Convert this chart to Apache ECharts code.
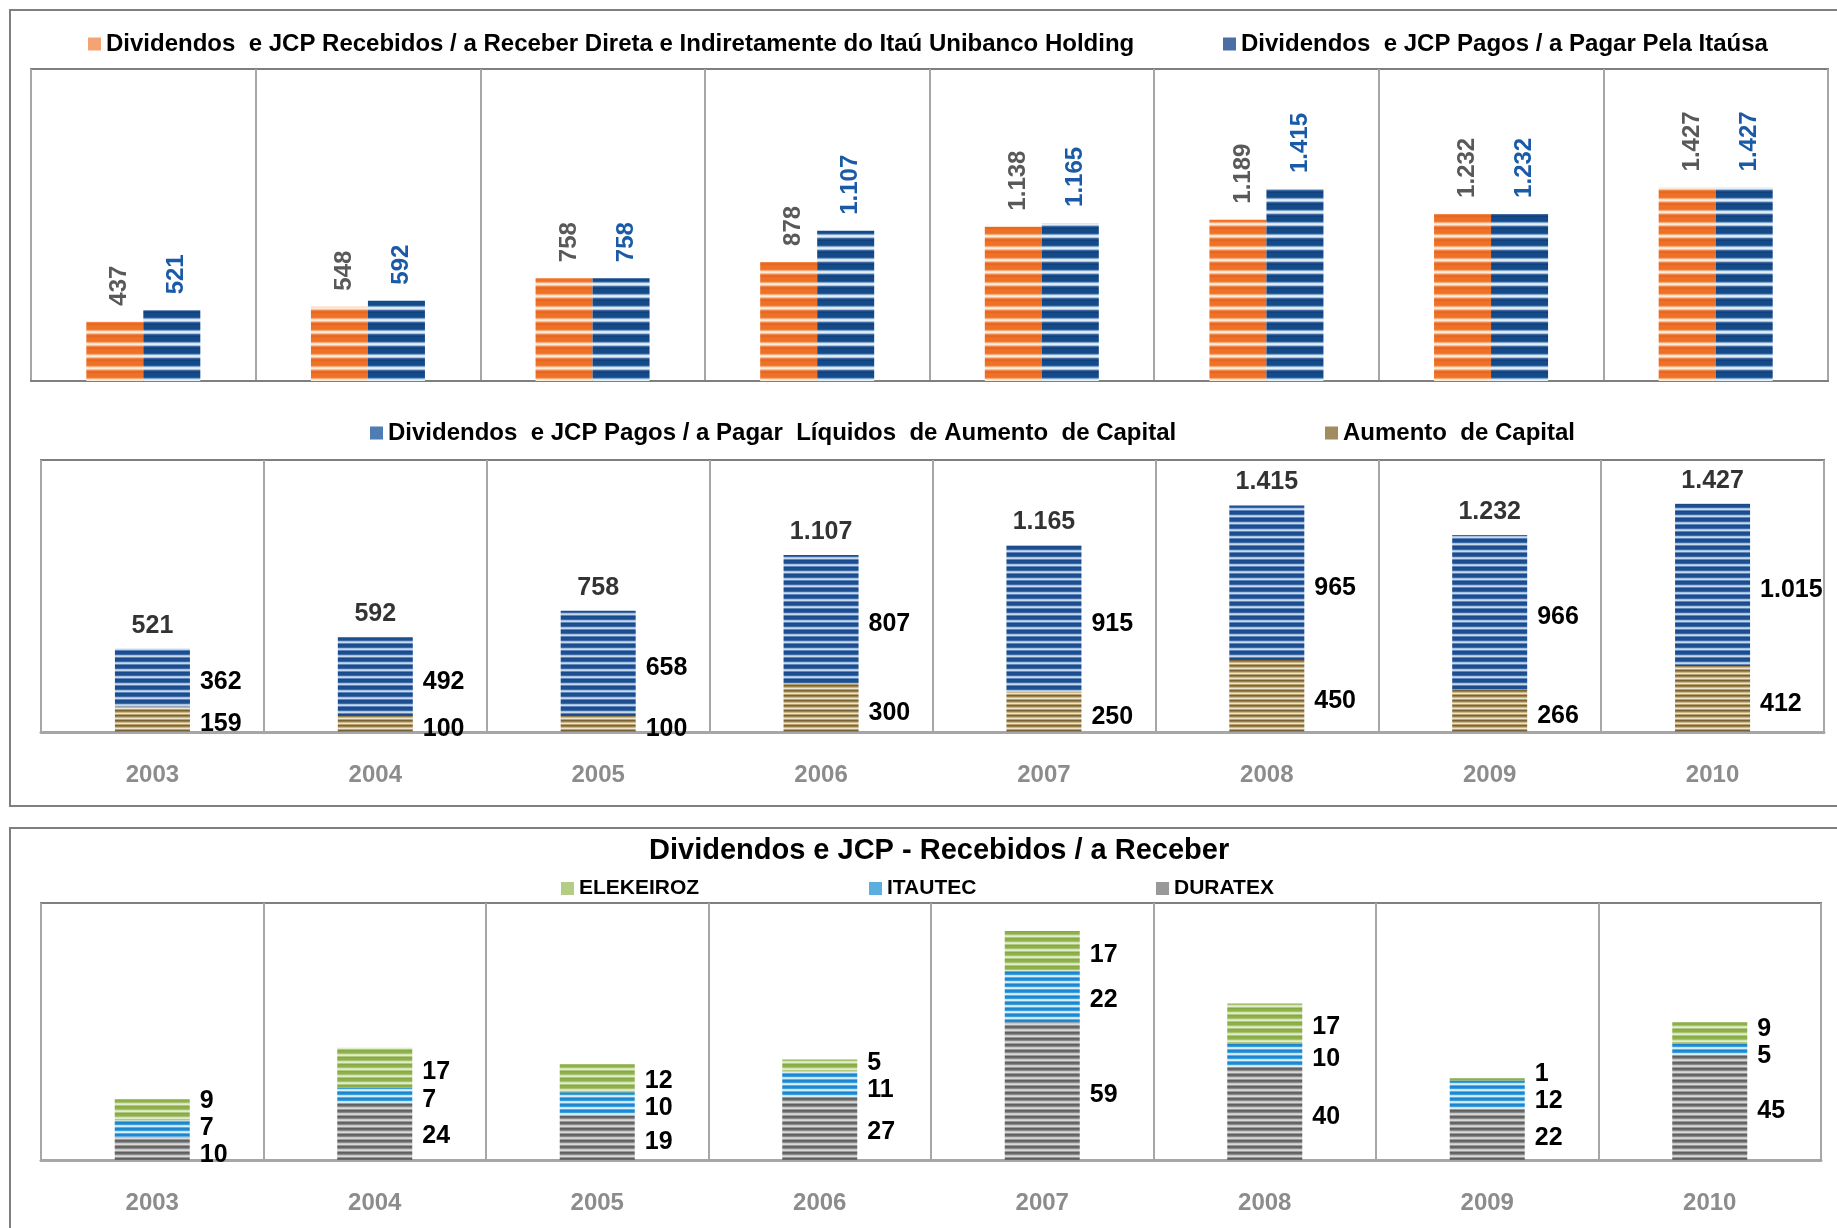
<!DOCTYPE html>
<html>
<head>
<meta charset="utf-8">
<script src="https://cdn.jsdelivr.net/npm/echarts@6/dist/echarts.min.js"></script>
<style>
html,body{margin:0;padding:0;background:#fff;}
#chart{width:1837px;height:1228px;}
</style>
</head>
<body>
<div id="chart"></div>
<script>
// ---------- DATA ----------
const years = ['2003','2004','2005','2006','2007','2008','2009','2010'];
const recebidosItau = [437, 548, 758, 878, 1138, 1189, 1232, 1427];
const pagosItausa = [521, 592, 758, 1107, 1165, 1415, 1232, 1427];
const pagosLiquidos = [362, 492, 658, 807, 915, 965, 966, 1015];
const aumentoCapital = [159, 100, 100, 300, 250, 450, 266, 412];
const duratex = [10, 24, 19, 27, 59, 40, 22, 45];
const itautec = [7, 7, 10, 11, 22, 10, 12, 5];
const elekeiroz = [9, 17, 12, 5, 17, 17, 1, 9];

const nameRec = 'Dividendos  e JCP Recebidos / a Receber Direta e Indiretamente do Itaú Unibanco Holding';
const namePag = 'Dividendos  e JCP Pagos / a Pagar Pela Itaúsa';
const nameLiq = 'Dividendos  e JCP Pagos / a Pagar  Líquidos  de Aumento  de Capital';
const nameCap = 'Aumento  de Capital';
const title3 = 'Dividendos e JCP - Recebidos / a Receber';

// ---------- HELPERS ----------
const FONT = '"Liberation Sans", Arial, sans-serif';
function fmt(v){ return String(v).replace(/\B(?=(\d{3})+(?!\d))/g, '.'); }
function stripe(rows){
  const c = document.createElement('canvas');
  c.width = 8; c.height = rows.length;
  const g = c.getContext('2d');
  rows.forEach((col,i)=>{ g.fillStyle = col; g.fillRect(0,i,8,1); });
  return {image: c, repeat: 'repeat'};
}
const pOrange = stripe(['#E8671E','#EC6F26','#EE7128','#EE7128','#EE7128','#EF7A35','#F5A878','#FCE0C8','#FDEBDA','#F8C29A','#F08547','#EA6A21']);
const pBlueTop = stripe(['#103F7C','#134A8A','#134A8A','#134A8A','#134A8A','#2A5C98','#7FA3CB','#D6E6F3','#E4EFF8','#A9C4E0','#3D6AA3','#154C8B']);
const pBlueMid = stripe(['#1A4A8C','#1C4F92','#1C4F92','#3C68A4','#A8C3E1','#C7D8EC','#5F86BA']);
const pBrown = stripe(['#7B6236','#9A824F','#C9B88C','#EDE5CE','#B8A270']);
const pGreen = stripe(['#86AA42','#8DB04A','#8DB04A','#A7C36F','#D5E3B8','#E2ECCF','#B0C97E']);
const pCyan = stripe(['#1A84CC','#1C8AD4','#3C9EDC','#BFE3F7','#D6EEFA','#5DB0E4']);
const pGray = stripe(['#5F5F5F','#6A6A6A','#8A8A8A','#C8C8C8','#D8D8D8','#9A9A9A']);

const totals2 = pagosLiquidos.map((v,i)=>v + aumentoCapital[i]);

function legendItem(name, color, left, top, size){
  return {
    data: [{name: name, itemStyle: {color: color}}],
    left: left, top: top, padding: 0,
    itemWidth: 13, itemHeight: 13, itemGap: 0,
    selectedMode: false,
    icon: 'rect',
    textStyle: {fontFamily: FONT, fontWeight: 'bold', fontSize: size, color: '#000', lineHeight: size + 2}
  };
}

const segLabel = (size, off) => ({
  show: true, position: 'right', distance: 10, offset: off,
  fontFamily: FONT, fontWeight: 'bold', fontSize: size, color: '#000',
  formatter: p => fmt(p.value)
});

// keep stacked labels of the bottom chart from overlapping (upper label yields most)
const stack3 = [duratex, itautec, elekeiroz]; // bottom -> top
function spreadLayout(k){
  return function(p){
    const i = p.dataIndex;
    const v = stack3[k][i];
    if (!v || !p.rect) return {dy: 4};
    const scale = p.rect.height / v;
    let cum = 0; const nat = [];
    for (let j = 0; j < 3; j++){ const h = stack3[j][i] * scale; nat.push(-(cum + h / 2)); cum += h; }
    const y = nat.slice();
    const G = 27, up = 0.75;
    for (let it = 0; it < 40; it++){
      for (let j = 1; j >= 0; j--){
        const gap = y[j] - y[j + 1];
        if (gap < G - 0.01){ const d = (G - gap); y[j + 1] -= d * up; y[j] += d * (1 - up); }
      }
    }
    return {dy: (y[k] - nat[k]) + 4};
  };
}

const xCat = (idx, showLabels) => ({
  type: 'category', gridIndex: idx, data: years,
  axisTick: {show: false},
  axisLine: {show: true, lineStyle: {color: idx === 0 ? '#7F7F7F' : '#A6A6A6', width: idx === 0 ? 2 : 3}},
  axisLabel: {show: showLabels, margin: 31, color: '#8C8C8C', fontFamily: FONT, fontWeight: 'bold', fontSize: 24},
  splitLine: {show: true, interval: 0, lineStyle: {color: '#A6A6A6', width: 2}}
});

const rotLabel = (color) => ({
  show: true, position: 'top', rotate: 90, align: 'left', verticalAlign: 'middle', distance: 16, offset: [0, 5],
  fontFamily: FONT, fontWeight: 'bold', fontSize: 24, color: color, formatter: p => fmt(p.value)
});

const option = {
  animation: false,
  backgroundColor: '#fff',
  title: {
    text: title3, left: 649, top: 836, padding: 0,
    textStyle: {fontFamily: FONT, fontWeight: 'bold', fontSize: 29, color: '#000'}
  },
  legend: [
    legendItem(nameRec, '#F3A472', 88, 31, 24),
    legendItem(namePag, '#4A6FA5', 1223, 31, 24),
    legendItem(nameLiq, '#4F7CB5', 370, 420, 24),
    legendItem(nameCap, '#A08C5E', 1325, 420, 24),
    legendItem('ELEKEIROZ', '#B5CC85', 561, 877, 21),
    legendItem('ITAUTEC', '#5AAFE0', 869, 877, 21),
    legendItem('DURATEX', '#999999', 1156, 877, 21)
  ],
  grid: [
    {left: 31, top: 69, right: 9, height: 312, show: true, borderColor: '#7F7F7F', borderWidth: 2},
    {left: 41, top: 460, right: 13, height: 272, show: true, borderColor: '#7F7F7F', borderWidth: 2},
    {left: 41, top: 903, right: 16, height: 257, show: true, borderColor: '#7F7F7F', borderWidth: 2}
  ],
  xAxis: [xCat(0, false), xCat(1, true), xCat(2, true)],
  yAxis: [
    {type: 'value', gridIndex: 0, min: 0, max: 2300, show: false},
    {type: 'value', gridIndex: 1, min: 0, max: 1700, show: false},
    {type: 'value', gridIndex: 2, min: 0, max: 110, show: false}
  ],
  graphic: [
    {type: 'rect', z: -10, shape: {x: 10, y: 10, width: 1860, height: 796}, style: {fill: 'none', stroke: '#7F7F7F', lineWidth: 2}},
    {type: 'rect', z: -10, shape: {x: 10, y: 828, width: 1860, height: 500}, style: {fill: 'none', stroke: '#7F7F7F', lineWidth: 2}}
  ],
  series: [
    {
      name: nameRec, type: 'bar', xAxisIndex: 0, yAxisIndex: 0, data: recebidosItau,
      barWidth: 57, barGap: '0%', itemStyle: {color: pOrange}, label: rotLabel('#595959')
    },
    {
      name: namePag, type: 'bar', xAxisIndex: 0, yAxisIndex: 0, data: pagosItausa,
      barWidth: 57, barGap: '0%', itemStyle: {color: pBlueTop}, label: rotLabel('#1A5AA6')
    },
    {
      name: nameCap, type: 'bar', stack: 'mid', xAxisIndex: 1, yAxisIndex: 1, data: aumentoCapital,
      barWidth: 75, itemStyle: {color: pBrown}, label: segLabel(25, [0, 5])
    },
    {
      name: nameLiq, type: 'bar', stack: 'mid', xAxisIndex: 1, yAxisIndex: 1, data: pagosLiquidos,
      barWidth: 75, itemStyle: {color: pBlueMid}, label: segLabel(25, [0, 5])
    },
    {
      name: 'Total', type: 'scatter', xAxisIndex: 1, yAxisIndex: 1, data: totals2,
      symbolSize: 1, itemStyle: {color: 'rgba(0,0,0,0)'}, silent: true,
      label: {show: true, position: 'top', distance: 10, fontFamily: FONT, fontWeight: 'bold', fontSize: 25, color: '#000',
        formatter: p => fmt(p.value)}
    },
    {
      name: 'DURATEX', type: 'bar', stack: 'bot', xAxisIndex: 2, yAxisIndex: 2, data: duratex,
      barWidth: 75, itemStyle: {color: pGray}, label: segLabel(25, [0, 0]), labelLayout: spreadLayout(0)
    },
    {
      name: 'ITAUTEC', type: 'bar', stack: 'bot', xAxisIndex: 2, yAxisIndex: 2, data: itautec,
      barWidth: 75, itemStyle: {color: pCyan}, label: segLabel(25, [0, 0]), labelLayout: spreadLayout(1)
    },
    {
      name: 'ELEKEIROZ', type: 'bar', stack: 'bot', xAxisIndex: 2, yAxisIndex: 2, data: elekeiroz,
      barWidth: 75, itemStyle: {color: pGreen}, label: segLabel(25, [0, 0]), labelLayout: spreadLayout(2)
    }
  ]
};

const chart = echarts.init(document.getElementById('chart'), null, {renderer: 'canvas'});
chart.setOption(option);
</script>
</body>
</html>
